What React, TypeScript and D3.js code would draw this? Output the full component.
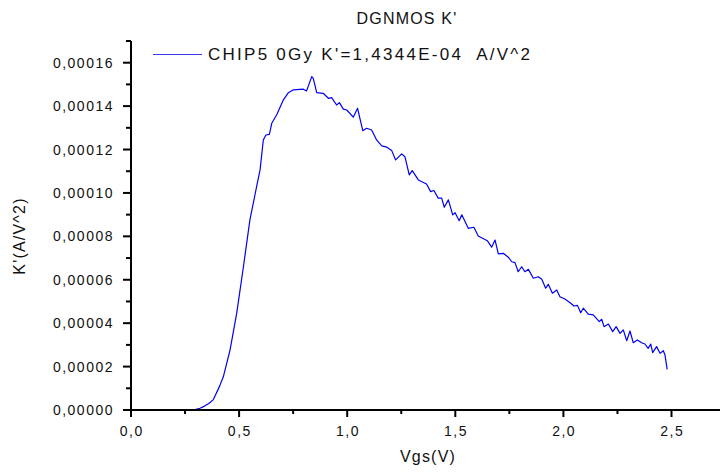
import React from "react";
import * as d3 from "d3";

const vgs: number[] = [
  0, 0.1, 0.2, 0.25, 0.28, 0.3, 0.319, 0.34, 0.36, 0.381, 0.41, 0.427, 0.458, 0.489, 0.52, 0.55,
  0.581, 0.597, 0.612, 0.624, 0.64, 0.651, 0.674, 0.705, 0.728, 0.751, 0.797, 0.812,
  0.836, 0.843, 0.859, 0.889, 0.913, 0.928, 0.951, 0.964, 0.982, 0.998, 1.028, 1.048,
  1.072, 1.09, 1.113, 1.136, 1.16, 1.183, 1.206, 1.224, 1.252, 1.267, 1.287, 1.301,
  1.329, 1.367, 1.386, 1.401, 1.421, 1.437, 1.449, 1.468, 1.488, 1.499, 1.518, 1.53,
  1.56, 1.586, 1.606, 1.648, 1.668, 1.684, 1.699, 1.722, 1.745, 1.761, 1.776, 1.791,
  1.807, 1.822, 1.838, 1.861, 1.884, 1.9, 1.918, 1.93, 1.949, 1.969, 1.984, 2.007,
  2.031, 2.049, 2.065, 2.08, 2.092, 2.115, 2.138, 2.166, 2.177, 2.188, 2.208, 2.228,
  2.244, 2.262, 2.277, 2.293, 2.308, 2.323, 2.342, 2.362, 2.377, 2.392, 2.404, 2.413,
  2.431, 2.447, 2.462, 2.47, 2.48,
];

const kprime: number[] = [
  0, 0, 0, 0, 0.0000001, 0.0000003, 0.0000008, 0.0000018, 0.000003, 0.0000048, 0.000011, 0.0000153,
  0.0000276, 0.0000446, 0.000066, 0.0000876, 0.0001029, 0.0001106, 0.0001244, 0.0001267,
  0.000127, 0.0001321, 0.000136, 0.0001429, 0.0001462, 0.0001475, 0.0001478, 0.000147,
  0.0001536, 0.0001528, 0.0001462, 0.0001459, 0.0001436, 0.0001439, 0.0001405, 0.0001416,
  0.0001386, 0.0001382, 0.0001349, 0.000139, 0.0001287, 0.0001298, 0.000129, 0.0001244,
  0.0001217, 0.0001211, 0.0001195, 0.0001152, 0.000118, 0.0001167, 0.0001083, 0.0001103,
  0.000106, 0.0001041, 0.0001006, 0.0001011, 0.0000976, 0.0000976, 0.0000934, 0.0000968,
  0.0000899, 0.0000909, 0.0000872, 0.0000899, 0.0000837, 0.0000842, 0.0000802, 0.000078,
  0.000075, 0.0000783, 0.0000719, 0.0000722, 0.0000704, 0.0000683, 0.0000679, 0.0000637,
  0.000066, 0.0000637, 0.0000648, 0.0000607, 0.0000614, 0.0000602, 0.0000561, 0.0000579,
  0.0000538, 0.0000553, 0.0000522, 0.0000511, 0.0000494, 0.0000479, 0.0000482, 0.0000448,
  0.0000469, 0.0000442, 0.0000438, 0.0000407, 0.0000418, 0.0000384, 0.0000396, 0.0000361,
  0.0000384, 0.0000353, 0.0000369, 0.0000319, 0.0000364, 0.000031, 0.0000323, 0.000031,
  0.0000304, 0.0000284, 0.0000304, 0.0000264, 0.0000292, 0.0000261, 0.0000273, 0.0000253,
  0.0000187,
];

const xMajorTicks: number[] = [0, 0.5, 1.0, 1.5, 2.0, 2.5];
const xMinorTicks: number[] = [0.25, 0.75, 1.25, 1.75, 2.25];
const xTickLabels: string[] = ["0,0", "0,5", "1,0", "1,5", "2,0", "2,5"];
const yMajorTicks: number[] = [0, 0.00002, 0.00004, 0.00006, 0.00008, 0.0001, 0.00012, 0.00014, 0.00016];
const yMinorTicks: number[] = [0.00001, 0.00003, 0.00005, 0.00007, 0.00009, 0.00011, 0.00013, 0.00015, 0.00017];
const yTickLabels: string[] = ["0,00000", "0,00002", "0,00004", "0,00006", "0,00008", "0,00010", "0,00012", "0,00014", "0,00016"];

const title = "DGNMOS K'";
const legendLabel = "CHIP5 0Gy K'=1,4344E-04  A/V^2";
const xTitle = "Vgs(V)";
const yTitle = "K'(A/V^2)";

export default function App() {
  const W = 720;
  const H = 472;
  const x = d3.scaleLinear().domain([0, 2.5]).range([131, 671.5]);
  const y = d3.scaleLinear().domain([0, 0.00016]).range([410, 62.7]);
  const pts: [number, number][] = vgs.map((v, i) => [v, kprime[i]]);
  const line = d3
    .line<[number, number]>()
    .x((d) => x(d[0]))
    .y((d) => y(d[1]));
  const font = "'Liberation Sans', Arial, sans-serif";
  const blue = "#0000f5";
  const x0 = x(0);
  const y0 = y(0);
  const yTop = y(0.00017);

  return (
    <svg
      width={W}
      height={H}
      style={{ position: "absolute", left: 0, top: 0, background: "#fff" }}
      fontFamily={font}
    >
      <rect x={0} y={0} width={W} height={H} fill="#fff" />
      {/* title */}
      <text x={407} y={24} textAnchor="middle" fontSize={16} letterSpacing={1.2} fill="#111">
        {title}
      </text>
      {/* legend */}
      <line x1={153} x2={202} y1={54.5} y2={54.5} stroke="#3b3bf0" strokeWidth={1.2} />
      <text
        x={208}
        y={60}
        fontSize={17}
        textLength={322}
        lengthAdjust="spacing"
        fill="#111"
        style={{ whiteSpace: "pre" }}
      >
        {legendLabel}
      </text>
      {/* data line */}
      <path d={line(pts) || ""} fill="none" stroke={blue} strokeWidth={1.2} strokeLinejoin="round" />
      {/* axes */}
      <line x1={x0} x2={x0} y1={yTop} y2={y0 + 1} stroke="#000" strokeWidth={2} />
      <line x1={x0 - 1} x2={720} y1={y0} y2={y0} stroke="#000" strokeWidth={2} />
      {yMajorTicks.map((t, i) => (
        <g key={"ym" + i}>
          <line x1={x0 - 8} x2={x0} y1={y(t)} y2={y(t)} stroke="#000" strokeWidth={2} />
          <text
            x={114}
            y={y(t)}
            dy="0.36em"
            textAnchor="end"
            fontSize={14}
            letterSpacing={1.5}
            fill="#111"
          >
            {yTickLabels[i]}
          </text>
        </g>
      ))}
      {yMinorTicks.map((t, i) => (
        <line key={"yn" + i} x1={x0 - 5} x2={x0} y1={y(t)} y2={y(t)} stroke="#000" strokeWidth={2} />
      ))}
      {xMajorTicks.map((t, i) => (
        <g key={"xm" + i}>
          <line x1={x(t)} x2={x(t)} y1={y0} y2={y0 + 7} stroke="#000" strokeWidth={2} />
          <text x={x(t) + 0.75} y={435.5} textAnchor="middle" fontSize={14} letterSpacing={1.5} fill="#111">
            {xTickLabels[i]}
          </text>
        </g>
      ))}
      {xMinorTicks.map((t, i) => (
        <line key={"xn" + i} x1={x(t)} x2={x(t)} y1={y0} y2={y0 + 4} stroke="#000" strokeWidth={2} />
      ))}
      {/* axis titles */}
      <text x={428} y={462} textAnchor="middle" fontSize={16} letterSpacing={1.2} fill="#111">
        {xTitle}
      </text>
      <text
        transform={`translate(25, 236) rotate(-90)`}
        textAnchor="middle"
        fontSize={16}
        letterSpacing={1.2}
        fill="#111"
      >
        {yTitle}
      </text>
    </svg>
  );
}
